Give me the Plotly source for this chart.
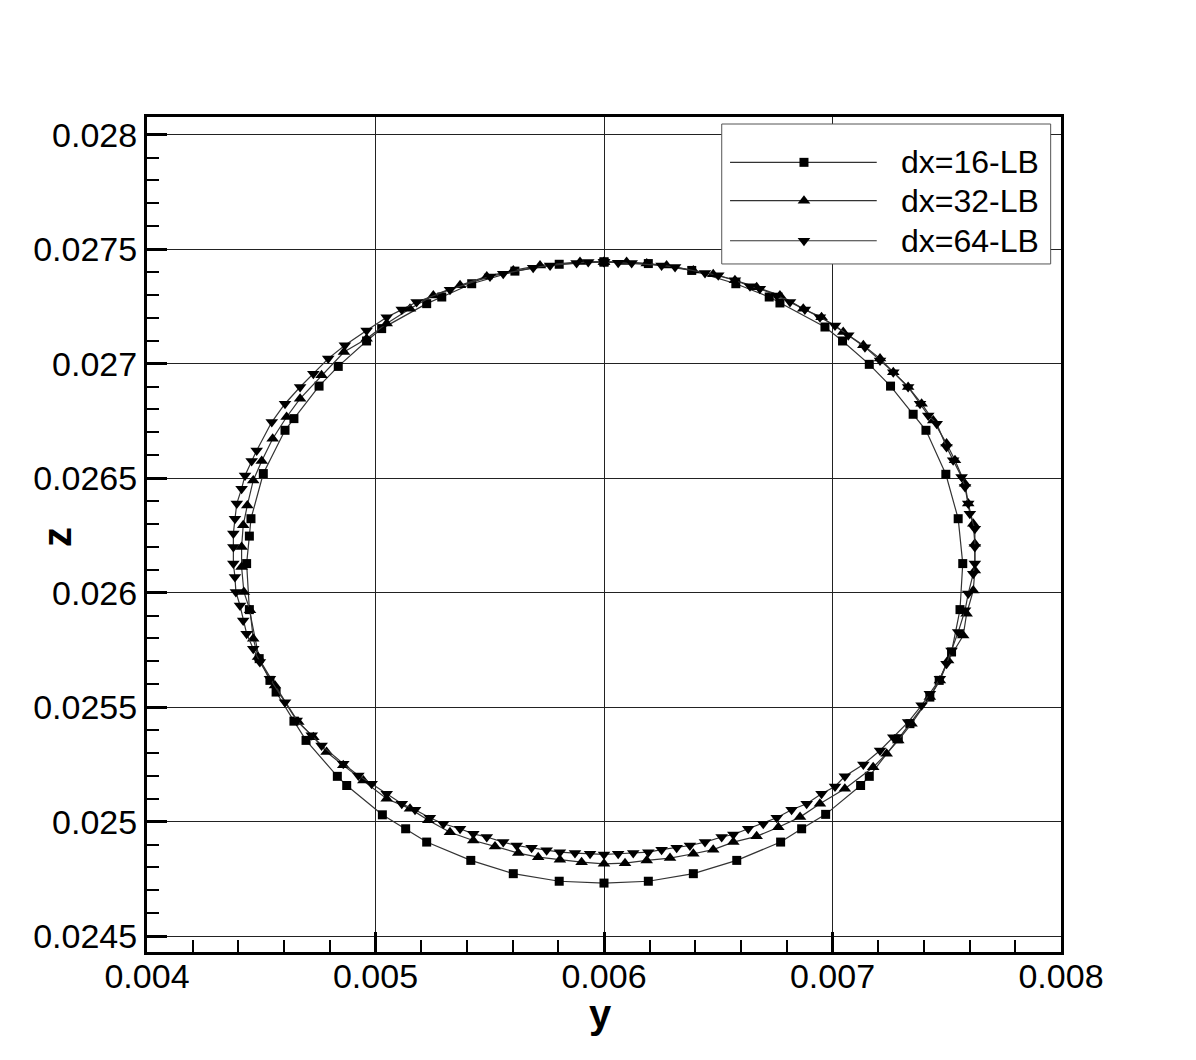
import plotly.graph_objects as go

# ---- data ----
x16 = [0.006000, 0.005804, 0.005610, 0.005421, 0.005290, 0.005224, 0.005027, 0.004961, 0.004837, 0.004753,
       0.004643, 0.004604, 0.004509, 0.004455, 0.004448, 0.004436, 0.004448, 0.004491, 0.004538, 0.004565,
       0.004643, 0.004696, 0.004833, 0.004874, 0.005030, 0.005132, 0.005224, 0.005417, 0.005603, 0.005804,
       0.006000, 0.006194, 0.006391, 0.006581, 0.006773, 0.006865, 0.006970, 0.007123, 0.007161, 0.007288,
       0.007339, 0.007426, 0.007467, 0.007521, 0.007558, 0.007570, 0.007550, 0.007496, 0.007409, 0.007353,
       0.007254, 0.007161, 0.007044, 0.006967, 0.006770, 0.006723, 0.006577, 0.006384, 0.006194, 0.006000]
z16 = [0.027444, 0.027434, 0.027404, 0.027349, 0.027291, 0.027262, 0.027153, 0.027099, 0.026988, 0.026902,
       0.026760, 0.026709, 0.026520, 0.026323, 0.026247, 0.026127, 0.025926, 0.025712, 0.025617, 0.025566,
       0.025439, 0.025355, 0.025198, 0.025158, 0.025030, 0.024969, 0.024911, 0.024831, 0.024773, 0.024740,
       0.024732, 0.024740, 0.024773, 0.024831, 0.024911, 0.024969, 0.025032, 0.025158, 0.025198, 0.025362,
       0.025428, 0.025544, 0.025617, 0.025741, 0.025926, 0.026127, 0.026323, 0.026517, 0.026709, 0.026779,
       0.026902, 0.026997, 0.027099, 0.027160, 0.027265, 0.027291, 0.027349, 0.027407, 0.027437, 0.027444]

x32 = [0.006000, 0.005895, 0.005720, 0.005603, 0.005487, 0.005370, 0.005253, 0.005151, 0.005049, 0.004961,
       0.004862, 0.004764, 0.004670, 0.004611, 0.004550, 0.004502, 0.004465, 0.004439, 0.004421, 0.004414,
       0.004414, 0.004424, 0.004451, 0.004465, 0.004486, 0.004560, 0.004662, 0.004728, 0.004786, 0.004859,
       0.004947, 0.005049, 0.005151, 0.005231, 0.005326, 0.005428, 0.005523, 0.005625, 0.005712, 0.005807,
       0.005902, 0.006000, 0.006092, 0.006187, 0.006289, 0.006391, 0.006478, 0.006566, 0.006668, 0.006763,
       0.006858, 0.006945, 0.007054, 0.007178, 0.007237, 0.007288, 0.007346, 0.007426, 0.007470, 0.007506,
       0.007572, 0.007587, 0.007616, 0.007623, 0.007623, 0.007616, 0.007594, 0.007580, 0.007536, 0.007499,
       0.007441, 0.007390, 0.007331, 0.007266, 0.007208, 0.007135, 0.007047, 0.006952, 0.006872, 0.006770,
       0.006668, 0.006573, 0.006478, 0.006391, 0.006274, 0.006187, 0.006099, 0.006000]
z32 = [0.027444, 0.027444, 0.027429, 0.027407, 0.027381, 0.027342, 0.027298, 0.027240, 0.027175, 0.027109,
       0.027051, 0.026949, 0.026847, 0.026767, 0.026672, 0.026575, 0.026490, 0.026381, 0.026294, 0.026199,
       0.026112, 0.026003, 0.025923, 0.025799, 0.025719, 0.025595, 0.025435, 0.025369, 0.025304, 0.025246,
       0.025180, 0.025100, 0.025057, 0.025006, 0.024954, 0.024918, 0.024892, 0.024863, 0.024845, 0.024834,
       0.024823, 0.024816, 0.024819, 0.024831, 0.024841, 0.024860, 0.024878, 0.024911, 0.024936, 0.024976,
       0.025020, 0.025078, 0.025144, 0.025238, 0.025297, 0.025355, 0.025428, 0.025544, 0.025617, 0.025704,
       0.025813, 0.025908, 0.026010, 0.026097, 0.026214, 0.026301, 0.026389, 0.026476, 0.026578, 0.026651,
       0.026752, 0.026825, 0.026898, 0.026963, 0.027022, 0.027080, 0.027138, 0.027203, 0.027240, 0.027298,
       0.027334, 0.027364, 0.027390, 0.027407, 0.027429, 0.027437, 0.027444, 0.027444]

x64 = [0.006000, 0.005931, 0.005880, 0.005764, 0.005690, 0.005559, 0.005501, 0.005326, 0.005180, 0.005115,
       0.005049, 0.004961, 0.004866, 0.004793, 0.004728, 0.004670, 0.004604, 0.004546, 0.004480, 0.004458,
       0.004429, 0.004414, 0.004393, 0.004385, 0.004378, 0.004378, 0.004378, 0.004385, 0.004389, 0.004407,
       0.004421, 0.004436, 0.004465, 0.004494, 0.004538, 0.004604, 0.004655, 0.004721, 0.004764, 0.004859,
       0.004925, 0.004983, 0.005049, 0.005115, 0.005173, 0.005238, 0.005297, 0.005370, 0.005428, 0.005487,
       0.005559, 0.005618, 0.005683, 0.005749, 0.005807, 0.005873, 0.005939, 0.006000, 0.006062, 0.006128,
       0.006194, 0.006252, 0.006318, 0.006376, 0.006442, 0.006515, 0.006566, 0.006631, 0.006697, 0.006756,
       0.006821, 0.006887, 0.006952, 0.007011, 0.007054, 0.007135, 0.007208, 0.007266, 0.007331, 0.007390,
       0.007426, 0.007470, 0.007499, 0.007521, 0.007550, 0.007580, 0.007594, 0.007616, 0.007623, 0.007623,
       0.007623, 0.007601, 0.007594, 0.007580, 0.007565, 0.007528, 0.007499, 0.007456, 0.007419, 0.007383,
       0.007331, 0.007266, 0.007208, 0.007142, 0.007069, 0.007011, 0.006945, 0.006879, 0.006814, 0.006756,
       0.006682, 0.006639, 0.006573, 0.006500, 0.006442, 0.006311, 0.006252, 0.006121, 0.006062, 0.006000]
z64 = [0.027444, 0.027444, 0.027439, 0.027429, 0.027419, 0.027393, 0.027381, 0.027323, 0.027269, 0.027236,
       0.027203, 0.027145, 0.027080, 0.027022, 0.026956, 0.026898, 0.026825, 0.026745, 0.026621, 0.026575,
       0.026512, 0.026454, 0.026389, 0.026323, 0.026258, 0.026199, 0.026127, 0.026068, 0.026003, 0.025944,
       0.025879, 0.025821, 0.025755, 0.025697, 0.025624, 0.025522, 0.025442, 0.025377, 0.025333, 0.025253,
       0.025202, 0.025166, 0.025122, 0.025078, 0.025052, 0.025017, 0.024991, 0.024969, 0.024947, 0.024933,
       0.024911, 0.024896, 0.024886, 0.024875, 0.024867, 0.024863, 0.024860, 0.024857, 0.024860, 0.024863,
       0.024867, 0.024878, 0.024886, 0.024896, 0.024911, 0.024933, 0.024944, 0.024969, 0.024991, 0.025017,
       0.025052, 0.025078, 0.025122, 0.025154, 0.025198, 0.025250, 0.025311, 0.025369, 0.025435, 0.025508,
       0.025559, 0.025624, 0.025690, 0.025748, 0.025828, 0.025923, 0.025996, 0.026083, 0.026127, 0.026199,
       0.026279, 0.026345, 0.026389, 0.026461, 0.026505, 0.026578, 0.026636, 0.026738, 0.026774, 0.026825,
       0.026898, 0.026963, 0.027014, 0.027072, 0.027124, 0.027167, 0.027203, 0.027236, 0.027269, 0.027298,
       0.027327, 0.027338, 0.027364, 0.027386, 0.027396, 0.027422, 0.027429, 0.027439, 0.027441, 0.027444]

series_names = ["dx=16-LB", "dx=32-LB", "dx=64-LB"]
symbols = ["square", "triangle-up", "triangle-down"]
marker_sizes = [9, 11, 11]

x_ticks = [0.004, 0.005, 0.006, 0.007, 0.008]
x_ticktext = ["0.004", "0.005", "0.006", "0.007", "0.008"]
z_ticks = [0.0245, 0.025, 0.0255, 0.026, 0.0265, 0.027, 0.0275, 0.028]
z_ticktext = ["0.0245", "0.025", "0.0255", "0.026", "0.0265", "0.027", "0.0275", "0.028"]
x_title = "y"
z_title = "z"

FONT = "Liberation Sans, Arial, Helvetica, sans-serif"
LINE_C = "#333333"

fig = go.Figure()
for xs, zs, name, sym, ms in zip([x16, x32, x64], [z16, z32, z64], series_names, symbols, marker_sizes):
    fig.add_trace(go.Scatter(x=xs, y=zs, mode="lines+markers", name=name,
                             line=dict(color=LINE_C, width=1.2),
                             marker=dict(symbol=sym, size=ms, color="black", line=dict(width=0)),
                             showlegend=False, xaxis="x", yaxis="y"))

# ---- hand-drawn legend on an overlay axis pair (range 0..1 over the plot area) ----
box_x = [0.6288, 0.9887, 0.9887, 0.6288, 0.6288]
box_y = [0.8240, 0.8240, 0.9916, 0.9916, 0.8240]
fig.add_trace(go.Scatter(x=box_x, y=box_y, mode="lines", fill="toself", fillcolor="white",
                         line=dict(color="#555555", width=1), hoverinfo="skip",
                         showlegend=False, xaxis="x2", yaxis="y2"))
row_y = [0.9457, 0.8998, 0.8518]
for ry, name, sym, ms in zip(row_y, series_names, symbols, marker_sizes):
    fig.add_trace(go.Scatter(x=[0.6379, 0.7984], y=[ry, ry], mode="lines",
                             line=dict(color=LINE_C, width=1.2), hoverinfo="skip",
                             showlegend=False, xaxis="x2", yaxis="y2"))
    fig.add_trace(go.Scatter(x=[0.7188], y=[ry], mode="markers",
                             marker=dict(symbol=sym, size=ms, color="black", line=dict(width=0)),
                             hoverinfo="skip", showlegend=False, xaxis="x2", yaxis="y2"))
    fig.add_annotation(x=0.9778, y=ry, xref="x2", yref="y2", text=name, showarrow=False,
                       xanchor="right", yanchor="middle",
                       font=dict(family=FONT, size=32, color="black"))

# axis titles as annotations (placed like the reference)
fig.add_annotation(x=0.4967, y=-0.046, xref="paper", yref="paper", text="<b>%s</b>" % x_title,
                   showarrow=False, xanchor="center", yanchor="top",
                   font=dict(family=FONT, size=40, color="black"))
fig.add_annotation(x=-0.0985, y=0.497, xref="paper", yref="paper", text="<b>%s</b>" % z_title,
                   showarrow=False, xanchor="center", yanchor="middle", textangle=-90,
                   font=dict(family=FONT, size=40, color="black"))

axis_common = dict(showline=True, linecolor="black", linewidth=3, mirror=True,
                   ticks="inside", ticklen=20, tickwidth=3, tickcolor="black",
                   showgrid=True, gridcolor="#222222", gridwidth=1, zeroline=False,
                   tickfont=dict(family=FONT, size=34, color="black"))

fig.update_layout(
    width=1196, height=1060,
    margin=dict(l=139, r=143, t=109, b=116),
    paper_bgcolor="white", plot_bgcolor="white",
    xaxis=dict(range=[0.004, 0.008], tickmode="array", tickvals=x_ticks, ticktext=x_ticktext,
               ticklabelstandoff=-8,
               minor=dict(dtick=0.0002, tick0=0.004, ticks="inside", ticklen=12, tickwidth=1.5,
                          tickcolor="black", showgrid=False),
               **axis_common),
    yaxis=dict(range=[0.024431, 0.028077], tickmode="array", tickvals=z_ticks, ticktext=z_ticktext,
               minor=dict(dtick=0.0001, tick0=0.0245, ticks="inside", ticklen=12, tickwidth=1.5,
                          tickcolor="black", showgrid=False),
               **axis_common),
    xaxis2=dict(range=[0, 1], overlaying="x", visible=False, fixedrange=True),
    yaxis2=dict(range=[0, 1], overlaying="y", visible=False, fixedrange=True),
)

fig.write_html("out.html")
